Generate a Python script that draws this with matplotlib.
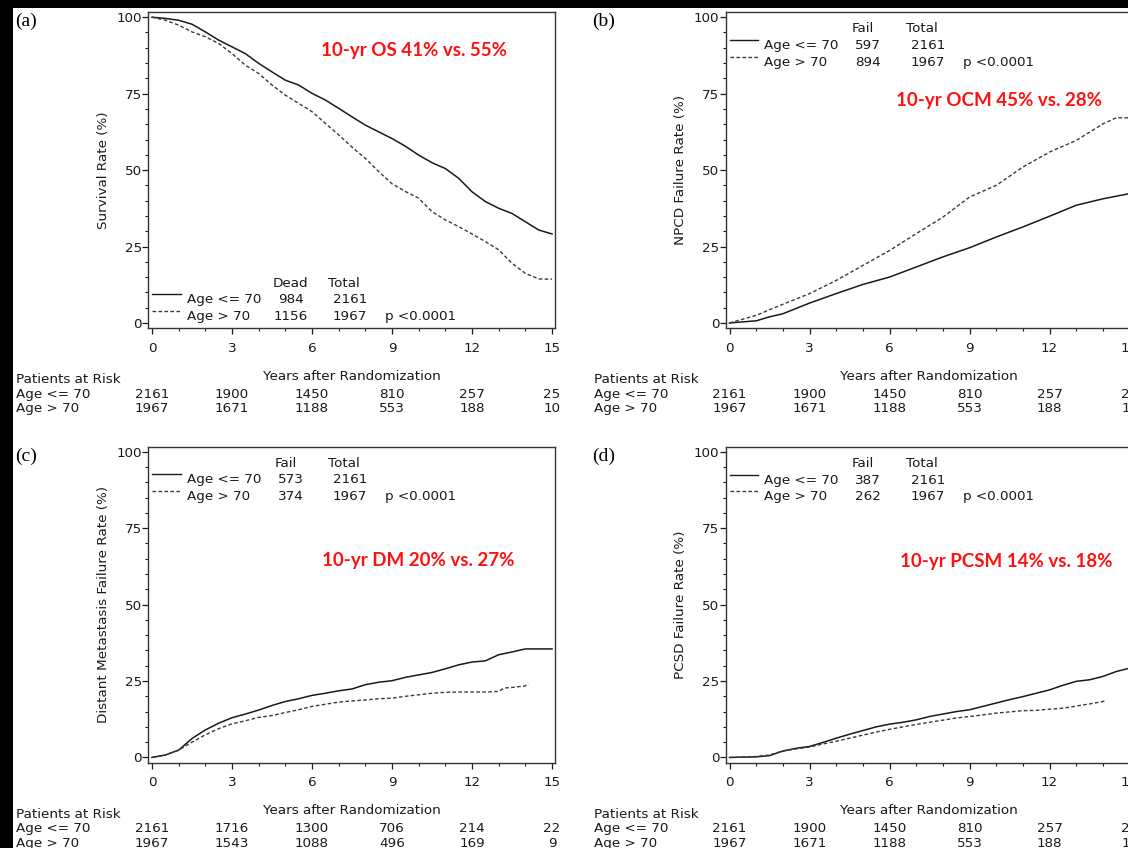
import matplotlib
matplotlib.use("Agg")
import matplotlib.pyplot as plt
from matplotlib.patches import Rectangle
from matplotlib.ticker import MultipleLocator
import matplotlib.transforms as mtransforms

# ---- data ----
half_years = [0, 0.5, 1, 1.5, 2, 2.5, 3, 3.5, 4, 4.5, 5, 5.5, 6, 6.5, 7, 7.5,
              8, 8.5, 9, 9.5, 10, 10.5, 11, 11.5, 12, 12.5, 13, 13.5, 14, 14.5, 15]

# (a) overall survival
os_young = [100, 99.6, 99.0, 97.7, 95.2, 92.5, 90.3, 88.1, 84.9, 82.1, 79.4, 77.8,
            75.1, 72.9, 70.2, 67.4, 64.7, 62.5, 60.3, 57.8, 54.9, 52.4, 50.5, 47.3,
            42.9, 39.7, 37.5, 35.8, 33.1, 30.4, 29.1]
os_old = [100, 99.0, 97.4, 95.2, 93.6, 91.4, 88.1, 84.3, 81.6, 77.8, 74.5, 71.8,
          69.1, 65.3, 61.5, 57.5, 53.8, 49.5, 45.5, 43.0, 40.8, 36.4, 33.7, 31.5,
          29.1, 26.6, 23.9, 19.5, 16.2, 14.4, 14.3]

# (b) non prostate cancer death
npcd_years_young = [0, 1, 1.5, 2, 3, 4, 5, 6, 7, 8, 9, 10, 11, 12, 13, 14, 15]
npcd_young = [0, 0.7, 2.0, 3.0, 6.5, 9.6, 12.6, 15.0, 18.3, 21.6, 24.6, 28.1,
              31.4, 34.9, 38.5, 40.6, 42.3]
npcd_years_old = [0, 1, 2, 3, 4, 5, 6, 7, 8, 9, 10, 11, 12, 13, 14, 14.5, 15]
npcd_old = [0, 2.5, 6.1, 9.6, 13.9, 18.8, 23.7, 29.2, 34.6, 41.2, 45.0, 51.0,
            55.9, 59.7, 65.1, 67.1, 67.1]

# (c) distant metastasis
dm_years_young = [0, 0.5, 1, 1.5, 2, 2.5, 3, 3.5, 4, 4.5, 5, 5.5, 6, 6.5, 7, 7.5,
                  8, 8.5, 9, 9.5, 10, 10.5, 11, 11.5, 12, 12.5, 13, 13.5, 14, 15]
dm_young = [0, 0.8, 2.4, 6.2, 9.0, 11.2, 13.0, 14.2, 15.5, 17.0, 18.3, 19.2, 20.3,
            21.0, 21.8, 22.4, 23.8, 24.6, 25.1, 26.2, 27.0, 27.8, 29.0, 30.3, 31.2,
            31.6, 33.6, 34.5, 35.5, 35.5]
dm_years_old = [0, 0.5, 1, 1.5, 2, 2.5, 3, 3.5, 4, 4.5, 5, 5.5, 6, 6.5, 7, 7.5,
                8, 8.5, 9, 9.5, 10, 10.5, 11, 11.5, 12, 12.5, 13, 13.2, 13.5, 14, 14.1]
dm_old = [0, 0.8, 2.4, 5.0, 7.4, 9.4, 11.0, 12.0, 13.1, 13.7, 14.7, 15.6, 16.7,
          17.4, 18.1, 18.5, 18.8, 19.2, 19.4, 20.0, 20.5, 21.0, 21.3, 21.4, 21.4,
          21.4, 21.6, 22.7, 22.9, 23.4, 24.3]

# (d) prostate cancer specific death
pcsd_young = [0, 0.1, 0.2, 0.6, 2.1, 3.0, 3.6, 4.9, 6.3, 7.6, 8.8, 10.0, 10.9,
              11.5, 12.3, 13.4, 14.2, 15.0, 15.6, 16.7, 17.8, 18.9, 19.9, 21.0,
              22.1, 23.6, 24.9, 25.4, 26.5, 28.1, 29.2]
pcsd_years_old = [0, 0.5, 1, 1.5, 2, 2.5, 3, 3.5, 4, 4.5, 5, 5.5, 6, 6.5, 7, 7.5,
                  8, 8.5, 9, 9.5, 10, 10.5, 11, 11.5, 12, 12.5, 13, 13.5, 14, 14.1]
pcsd_old = [0, 0.1, 0.3, 0.8, 2.1, 2.8, 3.4, 4.4, 5.3, 6.3, 7.3, 8.3, 9.2, 10.0,
            10.8, 11.5, 12.2, 12.9, 13.4, 13.9, 14.5, 14.9, 15.3, 15.4, 15.8, 16.1,
            16.8, 17.5, 18.3, 18.6]

risk_times = [0, 3, 6, 9, 12, 15]
risk_young = [2161, 1900, 1450, 810, 257, 25]
risk_old = [1967, 1671, 1188, 553, 188, 10]
dm_risk_young = [2161, 1716, 1300, 706, 214, 22]
dm_risk_old = [1967, 1543, 1088, 496, 169, 9]

group_labels = ["Age <= 70", "Age > 70"]
event_words = ["Dead", "Fail", "Fail", "Fail"]
events_young = [984, 597, 573, 387]
events_old = [1156, 894, 374, 262]
totals = [2161, 1967]
p_text = "p <0.0001"

panel_tags = ["(a)", "(b)", "(c)", "(d)"]
ylabels = ["Survival Rate (%)", "NPCD Failure Rate (%)",
           "Distant Metastasis Failure Rate (%)", "PCSD Failure Rate (%)"]
notes = ["10-yr OS 41% vs. 55%", "10-yr OCM 45% vs. 28%",
         "10-yr DM 20% vs. 27%", "10-yr PCSM 14% vs. 18%"]
note_pos = [(9.84, 87.3), (10.11, 70.9), (9.99, 62.6), (10.38, 62.2)]
legend_base = [11.9, 95.0, 95.1, 95.0]

curves = [
    ((half_years, os_young), (half_years, os_old)),
    ((npcd_years_young, npcd_young), (npcd_years_old, npcd_old)),
    ((dm_years_young, dm_young), (dm_years_old, dm_old)),
    ((half_years, pcsd_young), (pcsd_years_old, pcsd_old)),
]
risk_rows = [(risk_young, risk_old), (risk_young, risk_old),
             (dm_risk_young, dm_risk_old), (risk_young, risk_old)]

# ---- layout (pixels) ----
W, H = 1128, 848
AX_W, AX_H = 407, 316
origins = [(148, 12), (725.5, 12), (148, 446.5), (725.5, 446.5)]
FS = 9.7
INK = "#1a1a1a"


def fx(px):
    return px / W


def fy(py):
    return 1 - py / H


fig = plt.figure(figsize=(W / 100, H / 100), dpi=100, facecolor="black")
fig.add_artist(Rectangle((fx(13), 0), 1, fy(8), transform=fig.transFigure,
                         facecolor="white", edgecolor="none", zorder=-5))

for i in range(4):
    left, top = origins[i]
    ax = fig.add_axes([fx(left), fy(top + AX_H), AX_W / W, AX_H / H])
    ax.set_xlim(-0.15, 15.11)
    ax.set_ylim(-1.65, 101.7)

    (xy_y, xy_o) = curves[i]
    ax.plot(xy_y[0], xy_y[1], color=INK, lw=1.1, solid_joinstyle="miter")
    ax.plot(xy_o[0], xy_o[1], color="#3a3a3a", lw=1.0, dashes=(2.6, 1.7))

    ax.set_xticks(risk_times)
    ax.set_yticks([0, 25, 50, 75, 100])
    ax.xaxis.set_minor_locator(MultipleLocator(1))
    ax.yaxis.set_minor_locator(MultipleLocator(5))
    ax.tick_params(which="major", direction="out", length=4, width=0.9,
                   labelsize=FS, colors=INK)
    ax.tick_params(which="minor", direction="out", length=2.2, width=0.8, colors=INK)
    ax.tick_params(axis="x", pad=6)
    ax.tick_params(axis="y", pad=0.5)
    for sp in ax.spines.values():
        sp.set_linewidth(1.0)
        sp.set_color("#333333")

    # in-plot legend block
    b0 = legend_base[i]
    ax.plot([0.0, 1.07], [b0 - 5.45 + 2.9] * 2, color=INK, lw=1.0)
    ax.plot([0.0, 1.07], [b0 - 10.9 + 2.9] * 2, color="#3a3a3a", lw=1.0, dashes=(2.6, 1.7))
    head_x = 5.18 if i == 0 else 5.0
    ax.text(head_x, b0, event_words[i], ha="center", va="baseline", fontsize=FS, color=INK)
    ax.text(7.2, b0, "Total", ha="center", va="baseline", fontsize=FS, color=INK)
    for r, (lab, ev, tot) in enumerate(zip(group_labels, [events_young[i], events_old[i]], totals)):
        yb = b0 - 5.45 * (r + 1)
        ax.text(1.3, yb, lab, ha="left", va="baseline", fontsize=FS, color=INK)
        ax.text(5.2, yb, str(ev), ha="center", va="baseline", fontsize=FS, color=INK)
        ax.text(7.43, yb, str(tot), ha="center", va="baseline", fontsize=FS, color=INK)
    ax.text(8.75, b0 - 10.9, p_text, ha="left", va="baseline", fontsize=FS, color=INK)

    # red annotation
    ax.text(note_pos[i][0], note_pos[i][1], notes[i], ha="center", va="baseline",
            fontsize=13.5, fontweight="bold", family="Lato", color="#ff1010")

    # axis labels
    fig.text(fx(left - 45), fy(top + AX_H / 2), ylabels[i], rotation=90,
             ha="center", va="center", fontsize=FS, color=INK)
    fig.text(fx(left + AX_W / 2), fy(top + 368), "Years after Randomization",
             ha="center", va="baseline", fontsize=FS, color=INK)

    # panel tag
    fig.text(fx(left - 133), fy(top + 14), panel_tags[i], ha="left", va="baseline",
             fontsize=14, family="Liberation Serif", color="black")

    # risk table
    lab_x = fx(left - 132)
    fig.text(lab_x, fy(top + 371), "Patients at Risk", ha="left", va="baseline",
             fontsize=FS, color=INK)
    trans = mtransforms.blended_transform_factory(ax.transData, fig.transFigure)
    for r, (lab, counts) in enumerate(zip(group_labels, risk_rows[i])):
        yb = fy(top + 385.7 + 14.7 * r)
        fig.text(lab_x, yb, lab, ha="left", va="baseline", fontsize=FS, color=INK)
        for t, n in zip(risk_times, counts):
            ax.text(t, yb, str(n), transform=trans, ha="center", va="baseline",
                    fontsize=FS, color=INK, clip_on=False)

fig.savefig("out.png", dpi=100, facecolor=fig.get_facecolor())
